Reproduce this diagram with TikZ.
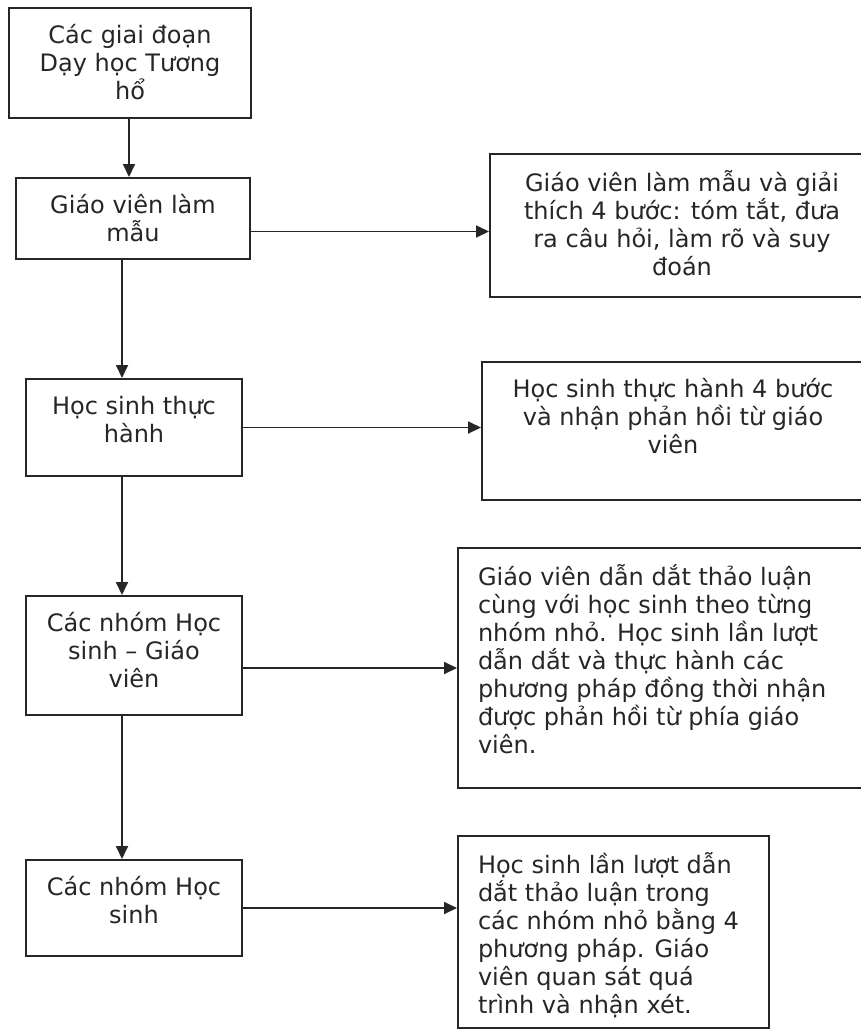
\documentclass[tikz,border=0pt]{standalone}
\usepackage{fontspec}
\setmainfont{DejaVu Sans}
\usetikzlibrary{arrows.meta}
\newcommand{\stagetext}[4]{\parbox[t][#2pt][t]{#1pt}{\lineskiplimit=-10pt\relax#3\vspace*{16pt}\strut#4}}

\begin{document}
\begin{tikzpicture}[x=1pt,y=-1pt,->,>={Triangle[length=13pt,width=12pt]},
    line width=1.8pt,draw=black!85,
    stage node/.style={draw,rectangle,inner sep=0pt,anchor=north west,line width=2pt,
      font=\fontsize{24}{28}\selectfont,text=black!85}]
   \useasboundingbox (0,0) rectangle (861,1029);
   % left column
   \node[stage node] (a) at (8,7) {\stagetext{242}{110}{\centering}{Các giai đoạn\\ Dạy học Tương\\ hổ}};
   \node[stage node] (b) at (15,177) {\stagetext{234}{81}{\centering}{Giáo viên làm\\ mẫu}};
   \node[stage node] (c) at (25,378) {\stagetext{216}{97}{\centering}{Học sinh thực\\ hành}};
   \node[stage node] (d) at (25,595) {\stagetext{216}{119}{\centering}{Các nhóm Học\\ sinh – Giáo\\ viên}};
   \node[stage node] (e) at (25,859) {\stagetext{216}{96}{\centering}{Các nhóm Học\\ sinh}};
   % right column
   \node[stage node] (rb) at (489,153) {\stagetext{384}{143}{\centering}{Giáo viên làm mẫu và giải\\ thích 4 bước: tóm tắt, đưa\\ ra câu hỏi, làm rõ và suy\\ đoán}};
   \node[stage node] (rc) at (481,361) {\stagetext{382}{138}{\centering}{Học sinh thực hành 4 bước\\ và nhận phản hồi từ giáo\\ viên}};
   \node[stage node] (rd) at (457,547) {\stagetext{420}{240}{\raggedright\leftskip=20pt}{Giáo viên dẫn dắt thảo luận\\ cùng với học sinh theo từng\\ nhóm nhỏ. Học sinh lần lượt\\ dẫn dắt và thực hành các\\ phương pháp đồng thời nhận\\ được phản hồi từ phía giáo\\ viên.}};
   \node[stage node] (re) at (457,835) {\stagetext{311}{192}{\raggedright\leftskip=20pt}{Học sinh lần lượt dẫn\\ dắt thảo luận trong\\ các nhóm nhỏ bằng 4\\ phương pháp. Giáo\\ viên quan sát quá\\ trình và nhận xét.}};
   % down the left column
   \draw ([xshift=-1pt]a.south) -- ([xshift=-1pt]a.south |- b.north);
   \draw ([xshift=-11pt]b.south) -- ([xshift=-11pt]b.south |- c.north);
   \draw ([xshift=-12pt]c.south) -- ([xshift=-12pt]c.south |- d.north);
   \draw ([xshift=-12pt]d.south) -- ([xshift=-12pt]d.south |- e.north);
   % across to the right
   \draw ([yshift=-13pt]b.east) -- ([yshift=-13pt]b.east -| rb.west);
   \draw (c.east) -- (c.east -| rc.west);
   \draw ([yshift=-12.5pt]d.east) -- ([yshift=-12.5pt]d.east -| rd.west);
   \draw (e.east) -- (e.east -| re.west);
\end{tikzpicture}
\end{document}
